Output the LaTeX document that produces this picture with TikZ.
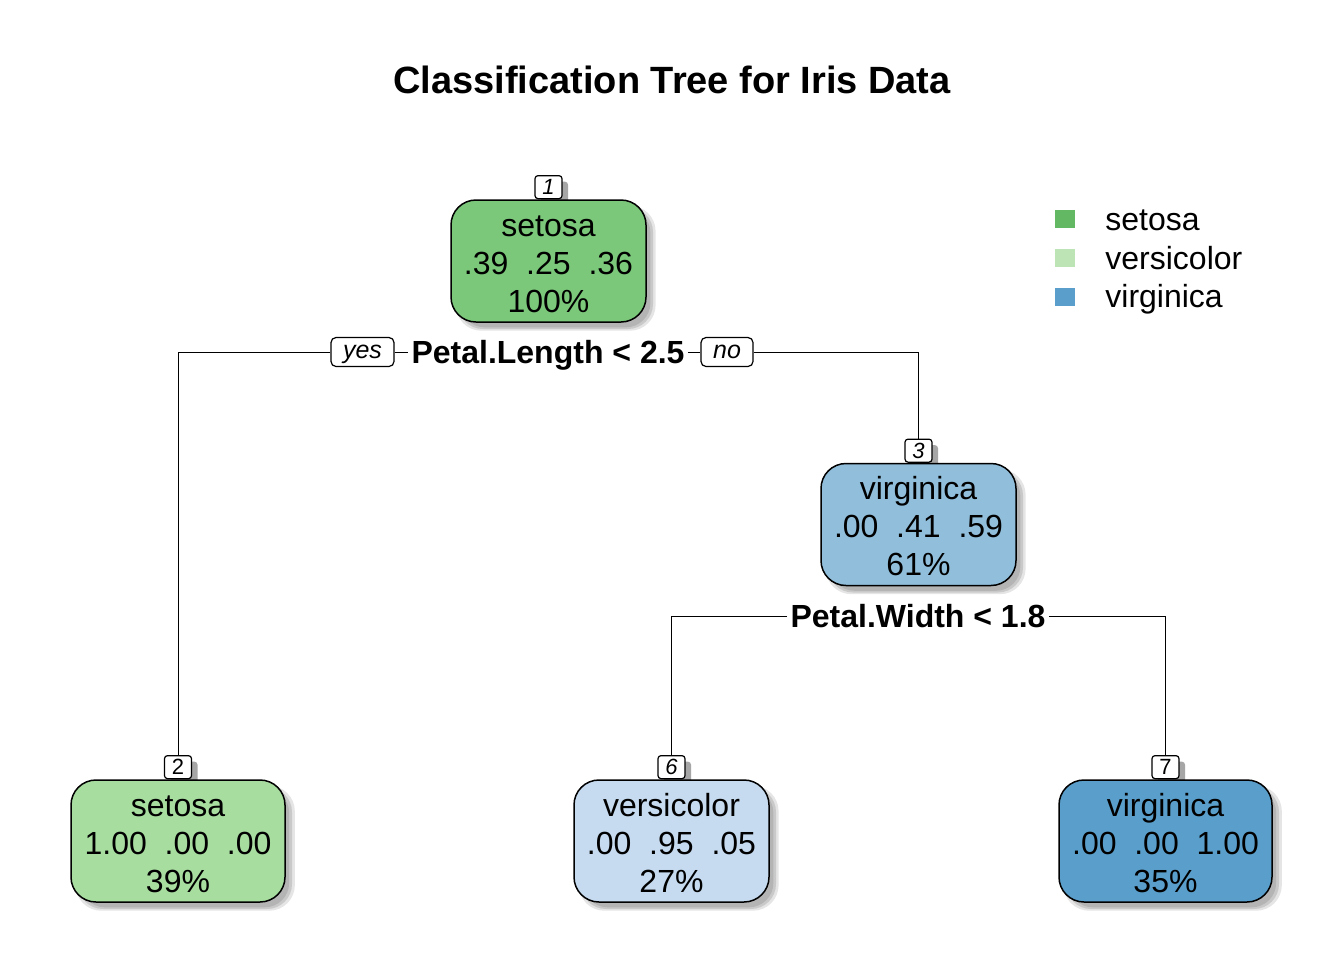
\documentclass[tikz,border=0pt]{standalone}
\usepackage{fontspec}
\setmainfont{Liberation Sans}
\usetikzlibrary{shadows,backgrounds}
\pgfdeclarelayer{bottom}
\pgfsetlayers{bottom,background,main}
\definecolor{cA}{HTML}{7BC87A}
\definecolor{cB}{HTML}{A8DDA0}
\definecolor{cC}{HTML}{91BFDB}
\definecolor{cD}{HTML}{C6DBEF}
\definecolor{cE}{HTML}{5A9FCB}
\definecolor{lgA}{HTML}{63B963}
\definecolor{lgB}{HTML}{BCE4B5}
\definecolor{lgC}{HTML}{5A9FCB}
\tikzset{
  softshadow/.style={
    general shadow={shadow xshift=3.5pt, shadow yshift=-3.5pt, fill=black, opacity=0.10, shadow scale=1.025},
    general shadow={shadow xshift=3.5pt, shadow yshift=-3.5pt, fill=black, opacity=0.12},
    general shadow={shadow xshift=3.5pt, shadow yshift=-3.5pt, fill=black, opacity=0.10, shadow scale=0.975}},
  treenode/.style={draw=black, line width=0.75pt, rounded corners=12.5pt, minimum height=61pt,
    inner sep=0pt, align=center, font=\fontsize{16}{19}\selectfont, text height=51pt, text depth=0pt, softshadow},
  numbox/.style={draw=black, fill=white, line width=0.6pt, rounded corners=1.5pt, minimum width=13.5pt,
    minimum height=11.5pt, inner sep=0pt, font=\fontsize{11}{13}\selectfont, anchor=south,
    general shadow={shadow xshift=3pt, shadow yshift=-3pt, fill=black!35}},
  ynbox/.style={draw=black, fill=white, line width=0.6pt, rounded corners=2.5pt, minimum height=14.5pt,
    inner sep=0pt, font=\fontsize{12.5}{15}\selectfont\itshape, text height=6.5pt, text depth=0pt},
  splitlab/.style={font=\fontsize{16}{19}\selectfont\bfseries, inner sep=1.5pt, text depth=0pt},
  conn/.style={draw=black, line width=0.5pt},
  legsq/.style={minimum width=10pt, minimum height=9pt, inner sep=0pt},
  legtxt/.style={anchor=base west, inner sep=0pt, font=\fontsize{16}{19}\selectfont}
}
\begin{document}
\begin{tikzpicture}[x=0.5pt, y=-0.5pt]
\useasboundingbox (0,0) rectangle (1344,960);
\begin{pgfonlayer}{bottom}
\fill[white] (0,0) rectangle (1344,960);
\end{pgfonlayer}

\node[font=\fontsize{19}{23}\selectfont\bfseries] (title) at (672,80) {Classification Tree for Iris Data};

% tree nodes
\node[treenode, fill=cA, minimum width=97.5pt] (n1) at (548.5,261) {setosa\\.39~~.25~~.36\\100\%};
\node[treenode, fill=cC, minimum width=97.5pt] (n3) at (918.5,524.5) {virginica\\.00~~.41~~.59\\61\%};
\node[treenode, fill=cB, minimum width=107pt] (n2) at (178,841) {setosa\\1.00~~.00~~.00\\39\%};
\node[treenode, fill=cD, minimum width=97.5pt] (n6) at (671.5,841) {versicolor\\.00~~.95~~.05\\27\%};
\node[treenode, fill=cE, minimum width=106.5pt] (n7) at (1165.5,841) {virginica\\.00~~.00~~1.00\\35\%};

% node numbers
\begin{scope}[on background layer]
\node[numbox] (n1num) at (n1.north) {\itshape 1};
\node[numbox] (n3num) at (n3.north) {\itshape 3};
\node[numbox] (n2num) at (n2.north) {2};
\node[numbox] (n6num) at (n6.north) {\itshape 6};
\node[numbox] (n7num) at (n7.north) {7};
\end{scope}

% split 1
\node[splitlab] (s1) at (548,352) {Petal.Length < 2.5};
\node[ynbox, minimum width=31.5pt] (yes) at (362.5,352) {yes};
\node[ynbox, minimum width=26pt] (no) at (727,352) {no};
\draw[conn] (yes.east) -- (yes.east -| s1.west);
\draw[conn] (yes.west) -| (n2num.north);
\draw[conn] (s1.east |- no.west) -- (no.west);
\draw[conn] (no.east) -| (n3num.north);

% split 2
\node[splitlab] (s2) at (918,616) {Petal.Width < 1.8};
\draw[conn] (s2.west) -| (n6num.north);
\draw[conn] (s2.east) -| (n7num.north);

% legend
\node[legsq, fill=lgA] (lg1) at (1065,219) {};
\node[legsq, fill=lgB] (lg2) at (1065,258) {};
\node[legsq, fill=lgC] (lg3) at (1065,297) {};
\node[legtxt] (lt1) at (1105,230) {setosa};
\node[legtxt] (lt2) at (1105,269) {versicolor};
\node[legtxt] (lt3) at (1105,307) {virginica};
\end{tikzpicture}
\end{document}
